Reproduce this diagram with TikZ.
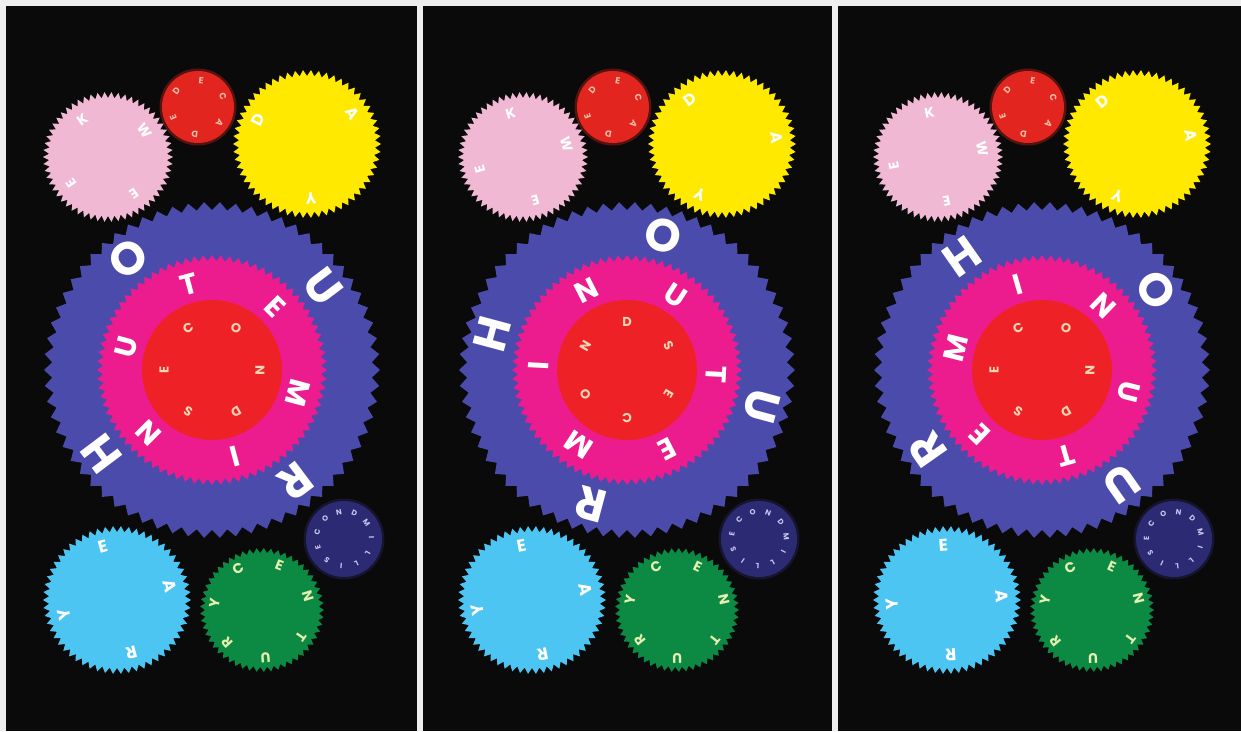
\documentclass[tikz,border=0pt]{standalone}
\usepackage{fontspec}
\setmainfont{Poppins}
\usetikzlibrary{calc}
\definecolor{bg}{HTML}{0A0A0A}
\definecolor{frame}{HTML}{EEEEEE}
\definecolor{weekc}{HTML}{F0B8D2}
\definecolor{decc}{HTML}{E2251E}
\definecolor{dayc}{HTML}{FFE900}
\definecolor{hourc}{HTML}{4A4BAA}
\definecolor{minc}{HTML}{EC1C8E}
\definecolor{secc}{HTML}{EE2226}
\definecolor{msc}{HTML}{2C2A72}
\definecolor{yearc}{HTML}{4CC5F2}
\definecolor{centc}{HTML}{0C8A44}
\definecolor{creamc}{HTML}{F8D6B4}
\definecolor{declet}{HTML}{F6BCA4}
\definecolor{centlet}{HTML}{E6F0B0}
\definecolor{mslet}{HTML}{C8C8F4}
\tikzset{
  lettr/.style={inner sep=0pt, outer sep=0pt, anchor=center},
  hourtxt/.style={lettr, text=white, font=\fontsize{46}{46}\selectfont\bfseries},
  mintxt/.style={lettr, text=white, font=\fontsize{29}{29}\selectfont\bfseries},
  sectxt/.style={lettr, text=creamc, font=\fontsize{13}{13}\selectfont\bfseries},
  weektxt/.style={lettr, text=white, font=\fontsize{14}{14}\selectfont\bfseries},
  dectxt/.style={lettr, text=declet, font=\fontsize{9}{9}\selectfont\bfseries},
  daytxt/.style={lettr, text=white, font=\fontsize{16}{16}\selectfont\bfseries},
  yeartxt/.style={lettr, text=white, font=\fontsize{17}{17}\selectfont\bfseries},
  centtxt/.style={lettr, text=centlet, font=\fontsize{14}{14}\selectfont\bfseries},
  mstxt/.style={lettr, text=mslet, font=\fontsize{7.5}{7.5}\selectfont\bfseries},
}
% gear: cx, cy, Rout, Rin, teeth, colour
\newcommand\geardraw[6]{%
  \pgfmathtruncatemacro\lastI{#5-1}%
  \begin{scope}[shift={(#1,#2)}]
    \fill[#6] (0:#3) \foreach \i in {0,...,\lastI}{ -- ({\i/#5*360}:#3) -- ({(\i+0.5)/#5*360}:#4) } -- cycle;
  \end{scope}}
% soft disc: cx, cy, R, colour
\newcommand\softdisc[4]{%
  \fill[#4, opacity=0.35] (#1,#2) circle (#3+1.5);
  \fill[#4] (#1,#2) circle (#3-1);}
% ring of letters: prefix, cx, cy, radius, start angle, step, style, letters
\newcommand\ringtext[8]{%
  \foreach \L [count=\k from 0] in {#8}{%
    \pgfmathsetmacro\ang{#5-\k*#6}%
    \node[#7, rotate=\ang-90] (#1\k) at ($(#2,#3)+(\ang:#4)$) {\L};
  }}
\begin{document}
\begin{tikzpicture}[x=1pt,y=1pt]
\useasboundingbox (0,0) rectangle (1241,731);
\fill[frame] (0,0) rectangle (1241,731);
\fill[bg] (6,0) rectangle (417,725);
\fill[bg] (423,0) rectangle (832,725);
\fill[bg] (838,0) rectangle (1241,725);
\foreach \p/\px/\hr/\mn/\sc/\wk/\dc/\dy/\yr/\ct/\ms in {
  a/0/217/-15/-120/35/143/154/195/120/35,
  b/415/165/-123/30/16/140/126/191/116/5,
  c/830/125/166/-120/11/140/129/184/117/15}{
  \begin{scope}[xshift=\px]
    % gears
    \geardraw{108}{574}{65}{59}{58}{weekc}
    \softdisc{198}{624}{37}{decc}
    \geardraw{307}{587}{74}{68}{58}{dayc}
    \geardraw{212}{361}{168}{160}{66}{hourc}
    \geardraw{212}{361}{115}{109}{80}{minc}
    \fill[secc] (212,361) circle (70);
    \softdisc{344}{192}{39}{msc}
    \geardraw{117}{131}{74}{68}{58}{yearc}
    \geardraw{262}{121}{62}{57}{53}{centc}
    % letters
    \ringtext{\p hour}{212}{361}{139}{\hr}{90}{hourtxt}{H,O,U,R}
    \ringtext{\p min}{212}{361}{89}{\mn}{60}{mintxt}{M,I,N,U,T,E}
    \ringtext{\p sec}{212}{361}{48}{\sc}{60}{sectxt}{S,E,C,O,N,D}
    \ringtext{\p week}{108}{574}{45}{\wk}{90}{weektxt}{W,E,E,K}
    \ringtext{\p dec}{198}{624}{27}{\dc}{60}{dectxt}{D,E,C,A,D,E}
    \ringtext{\p day}{307}{587}{55}{\dy}{120}{daytxt}{D,A,Y}
    \ringtext{\p year}{117}{131}{55}{\yr}{90}{yeartxt}{Y,E,A,R}
    \ringtext{\p cent}{262}{121}{48}{\ct}{51.43}{centtxt}{C,E,N,T,U,R,Y}
    \ringtext{\p ms}{344}{192}{27.5}{\ms}{32.73}{mstxt}{M,I,L,L,I,S,E,C,O,N,D}
  \end{scope}
}
\end{tikzpicture}
\end{document}
